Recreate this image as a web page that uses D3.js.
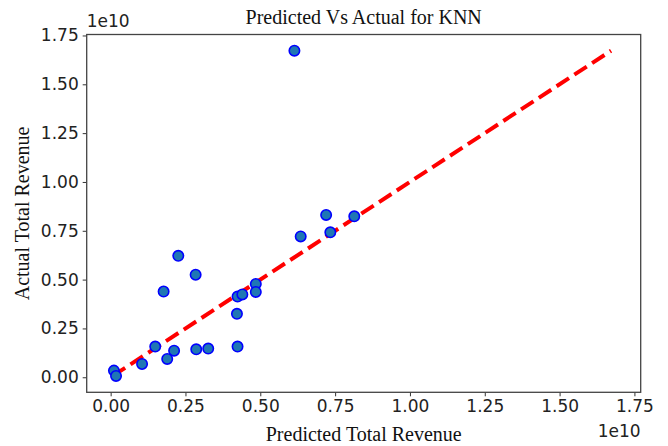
<!DOCTYPE html>
<html><head><meta charset="utf-8">
<script src="https://cdn.jsdelivr.net/npm/d3@7"></script>
<style>body{margin:0;background:#fff}svg{display:block}</style>
</head><body><svg id="c" width="668" height="446"></svg>
<script>
// values in units of 1e10
const predicted = [0.614,0.226,0.284,0.177,0.424,0.44,0.485,0.485,0.422,0.424,0.149,0.212,0.189,0.286,0.326,0.105,0.011,0.018,0.72,0.814,0.734,0.635];
const actual    = [1.672,0.622,0.525,0.439,0.413,0.424,0.478,0.437,0.325,0.157,0.157,0.136,0.094,0.143,0.147,0.068,0.034,0.007,0.831,0.824,0.742,0.721];
const tickValues = [0,0.25,0.5,0.75,1.0,1.25,1.5,1.75];
const title = "Predicted Vs Actual for KNN";
const xLabel = "Predicted Total Revenue";
const yLabel = "Actual Total Revenue";
const offsetText = "1e10";

const L=86.7,R=640.7,T=34.5,B=392.3;
const svg=d3.select("#c");
const x=d3.scaleLinear().domain([-0.080,1.771]).range([L,R]);
const y=d3.scaleLinear().domain([-0.077,1.755]).range([B,T]);
const fmt=d3.format(".2f");
const tickFont="'DejaVu Sans', sans-serif";
const serif="'Liberation Serif','Times New Roman',serif";

const gx=svg.append("g").attr("transform",`translate(0,${B})`)
  .call(d3.axisBottom(x).tickValues(tickValues).tickFormat(fmt).tickSizeOuter(0).tickSize(4).tickPadding(4));
const gy=svg.append("g").attr("transform",`translate(${L},0)`)
  .call(d3.axisLeft(y).tickValues(tickValues).tickFormat(fmt).tickSizeOuter(0).tickSize(4).tickPadding(4));
[gx,gy].forEach(g=>{g.select(".domain").remove();
  g.selectAll("line").attr("stroke","#333").attr("stroke-width",1);
  g.selectAll("text").attr("font-family",tickFont).attr("font-size",17).attr("fill","#222");});

// line y = x
const lo=d3.min(actual), hi=d3.max(actual);
svg.append("line").attr("x1",x(lo)).attr("y1",y(lo)).attr("x2",x(hi)).attr("y2",y(hi))
  .attr("stroke","#ff0000").attr("stroke-width",4).attr("stroke-dasharray","14.8,6.4");

svg.append("g").selectAll("circle").data(predicted).join("circle")
  .attr("cx",(d)=>x(d)).attr("cy",(d,i)=>y(actual[i])).attr("r",5.2)
  .attr("fill","#1f77b4").attr("stroke","#0000ff").attr("stroke-width",1.6);

svg.append("rect").attr("x",L).attr("y",T).attr("width",R-L).attr("height",B-T)
  .attr("fill","none").attr("stroke","#444").attr("stroke-width",1.3);

svg.append("text").attr("x",(L+R)/2).attr("y",24).attr("text-anchor","middle")
  .attr("font-family",serif).attr("font-size",20).attr("fill","#111").text(title);
svg.append("text").attr("x",(L+R)/2).attr("y",441).attr("text-anchor","middle")
  .attr("font-family",serif).attr("font-size",20).attr("fill","#111").text(xLabel);
svg.append("text").attr("transform",`translate(29,${(T+B)/2}) rotate(-90)`).attr("text-anchor","middle")
  .attr("font-family",serif).attr("font-size",20).attr("fill","#111").text(yLabel);
svg.append("text").attr("x",R).attr("y",437).attr("text-anchor","end")
  .attr("font-family",tickFont).attr("font-size",17).attr("fill","#222").text(offsetText);
svg.append("text").attr("x",L).attr("y",27).attr("text-anchor","start")
  .attr("font-family",tickFont).attr("font-size",17).attr("fill","#222").text(offsetText);
</script></body></html>
